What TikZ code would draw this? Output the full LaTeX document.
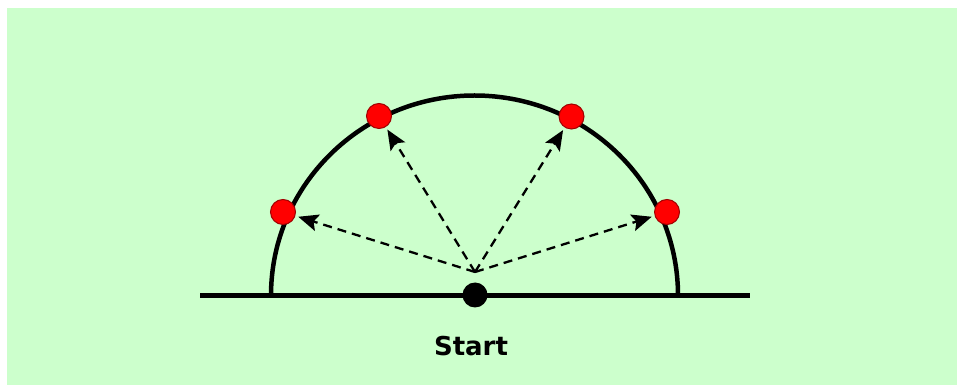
\documentclass[tikz,border=0pt]{standalone}
\usepackage{fontspec}
\setmainfont{DejaVu Sans}
\usetikzlibrary{arrows.meta}
\definecolor{bgreen}{HTML}{CCFFCC}
\definecolor{dotred}{HTML}{FF0000}
\definecolor{dotedge}{HTML}{A00000}
\begin{document}
\begin{tikzpicture}[x=1pt,y=1pt,
  reddot/.style={circle,fill=dotred,draw=dotedge,line width=1pt,minimum size=25pt,inner sep=0pt},
  startdot/.style={circle,fill=black,minimum size=25pt,inner sep=0pt},
  thick line/.style={line width=4.5pt},
  ray/.style={line width=2.3pt,dash pattern=on 9pt off 6pt,-{Stealth[length=20pt,width=17pt,inset=4pt]},shorten >=3pt}]
\useasboundingbox (0,0) rectangle (957,385);
\fill[bgreen] (7,0) rectangle (957,377);
% ground line and arc
\draw[thick line] (200,89.5) -- (750,89.5);
\draw[thick line] (271,89.5) arc[start angle=180,end angle=0,x radius=203.5,y radius=200];
% points
\coordinate (o) at (475,113);
\node[reddot] (d1) at (283,173) {};
\node[reddot] (d2) at (379,269) {};
\node[reddot] (d3) at (571.5,268.5) {};
\node[reddot] (d4) at (667,173) {};
\draw[ray] (o) -- (d1);
\draw[ray] (o) -- (d2);
\draw[ray] (o) -- (d3);
\draw[ray] (o) -- (d4);
\node[startdot] (s) at (475,90) {};
\node[anchor=base,font=\bfseries\fontsize{26}{30}\selectfont] (lbl) at (471,30) {Start};
\end{tikzpicture}
\end{document}
